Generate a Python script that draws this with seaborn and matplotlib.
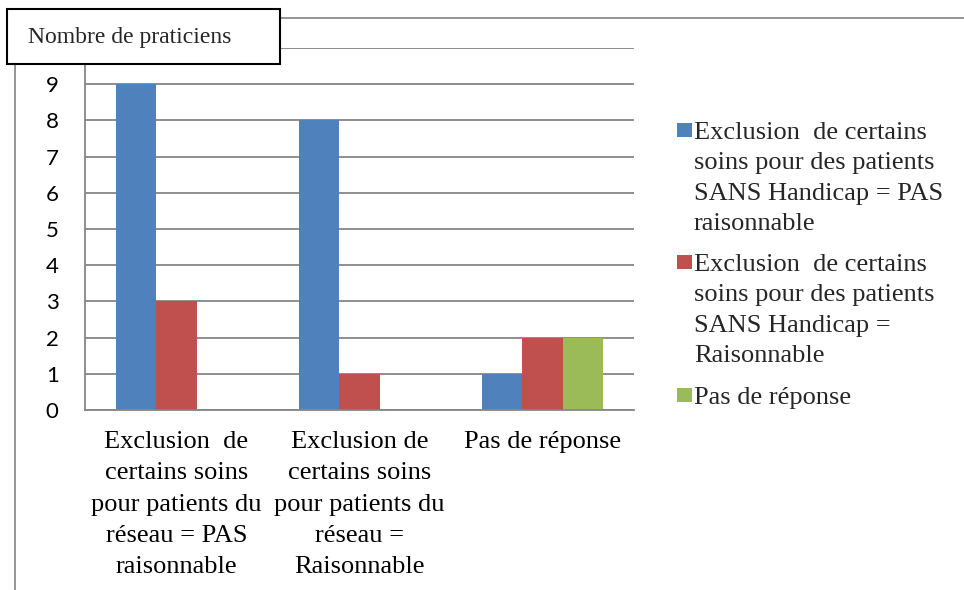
import pandas as pd
import seaborn as sns
import matplotlib.pyplot as plt
from matplotlib.patches import Rectangle
from matplotlib.lines import Line2D

# Valeurs
categories = [
    "Exclusion  de\ncertains soins\npour patients du\nréseau = PAS\nraisonnable",
    "Exclusion de\ncertains soins\npour patients du\nréseau =\nRaisonnable",
    "Pas de réponse",
]
series = [
    "Exclusion  de certains\nsoins pour des patients\nSANS Handicap = PAS\nraisonnable",
    "Exclusion  de certains\nsoins pour des patients\nSANS Handicap =\nRaisonnable",
    "Pas de réponse",
]
pas_raisonnable = [9, 8, 1]
raisonnable = [3, 1, 2]
pas_reponse = [0, 0, 2]
colors = ["#4F81BD", "#C0504D", "#9BBB59"]
y_ticks = list(range(0, 11))
title = "Nombre de praticiens"

df = pd.DataFrame({
    "categorie": categories * 3,
    "serie": [s for s in series for _ in categories],
    "n": pas_raisonnable + raisonnable + pas_reponse,
})

sns.set_style("white")
serif = ["Liberation Serif", "DejaVu Serif"]
plt.rcParams["font.family"] = serif
grid_col = "#868686"
W, H = 964, 590

fig = plt.figure(figsize=(9.64, 5.9), dpi=100)
ax = fig.add_axes([85 / W, 180 / H, 549 / W, 362 / H])

sns.barplot(data=df, x="categorie", y="n", hue="serie", palette=colors,
            width=0.656, saturation=1, linewidth=0, legend=False, ax=ax)

ax.set_ylim(0, 10)
ax.set_xlim(-0.5, 2.5)
ax.set_yticks(y_ticks)
# le "10" est cache par l'encadre du titre dans l'original
ax.set_yticklabels([str(t) if t < 10 else "" for t in y_ticks])
ax.set_xticks(range(len(categories)))
ax.set_xticklabels(categories)
ax.set_xticks([-0.5, 0.5, 1.5, 2.5], minor=True)
ax.set_xlabel("")
ax.set_ylabel("")

ax.yaxis.grid(True, color=grid_col, lw=1.3)
ax.set_axisbelow(True)
for side in ["top", "right"]:
    ax.spines[side].set_visible(False)
for side in ["left", "bottom"]:
    ax.spines[side].set_color(grid_col)
    ax.spines[side].set_linewidth(1.3)

ax.tick_params(axis="y", length=5, width=1.3, color=grid_col, pad=14, labelcolor="black")
ax.tick_params(axis="x", which="major", length=0, pad=15, labelcolor="black")
ax.tick_params(axis="x", which="minor", length=5, width=1.3, color=grid_col)
plt.setp(ax.get_yticklabels(), fontfamily="Lato", fontsize=16)
plt.setp(ax.get_xticklabels(), fontfamily=serif, fontsize=19, linespacing=1.55)

# legende (carre aligne sur la premiere ligne, comme dans l'original)
leg_tops = [123, 255, 388]
for lab, col, top in zip(series, colors, leg_tops):
    fig.add_artist(Rectangle((677 / W, 1 - (top + 14) / H), 15 / W, 14 / H,
                             facecolor=col, edgecolor="none"))
    fig.text(694 / W, 1 - (top - 1) / H, lab, va="top", ha="left",
             fontsize=19, linespacing=1.5)

# cadre de la zone graphique
fig.add_artist(Line2D([280 / W, 1], [1 - 18 / H] * 2, color="#8c8c8c", lw=1.3))
fig.add_artist(Line2D([15 / W] * 2, [0, 1 - 64 / H], color="#8c8c8c", lw=1.3))

# encadre du titre de l'axe
fig.add_artist(Rectangle((7 / W, 1 - 64 / H), 273 / W, 55 / H,
                         facecolor="white", edgecolor="black", lw=1.5, zorder=4))
fig.text(28 / W, 1 - 37 / H, title, va="center", ha="left", fontsize=17, zorder=5)

fig.savefig("out.png", dpi=100)
